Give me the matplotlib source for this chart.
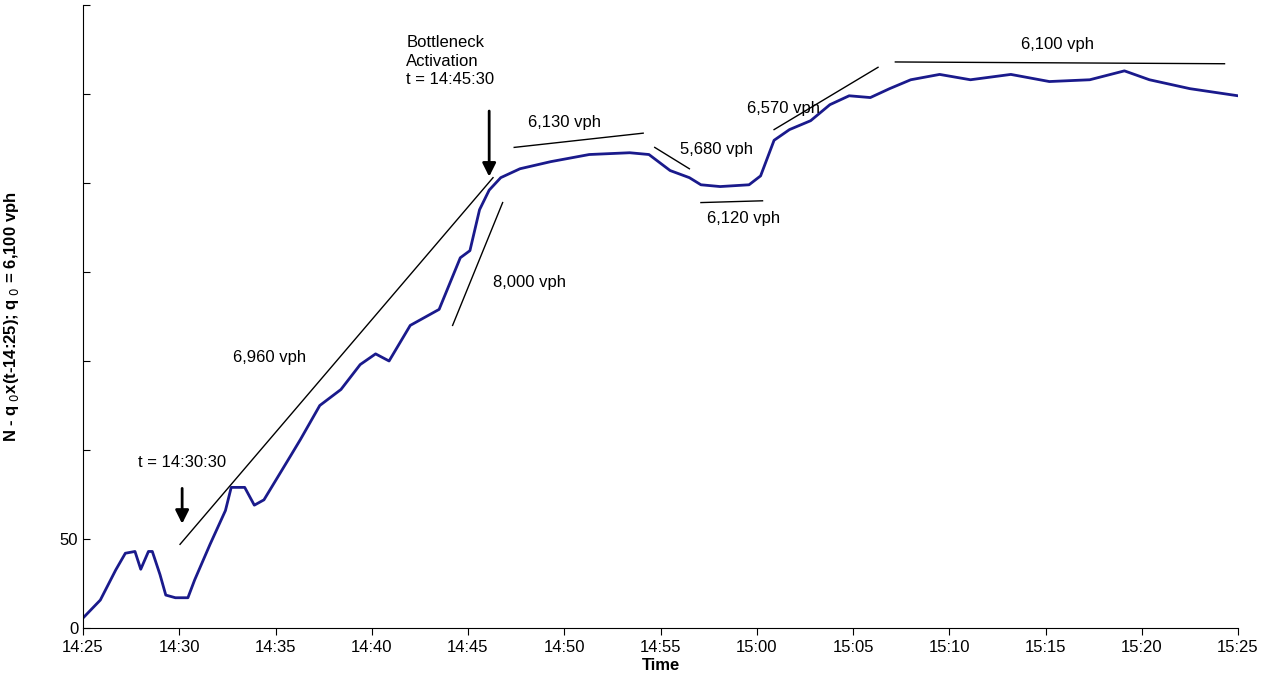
import matplotlib.pyplot as plt

# minutes after 14:25, cumulative count (N - q0 x (t - 14:25))
minutes = [0, 0.9, 1.7, 2.2, 2.7, 3.0, 3.4, 3.6, 4.0, 4.3, 4.8, 5.45, 5.8, 6.6, 7.4, 7.7,
           8.4, 8.9, 9.4, 10.8, 11.3, 12.3, 13.4, 14.4, 15.2, 15.9, 17.0, 18.0, 18.5,
           19.6, 20.1, 20.6, 21.1, 21.7, 22.7, 24.3, 26.3, 28.4, 29.4, 30.5, 31.5,
           32.1, 33.1, 34.6, 35.2, 35.9, 36.7, 37.8, 38.8, 39.8, 40.9, 41.9, 43.0,
           44.5, 46.1, 48.2, 50.2, 52.3, 54.1, 55.4, 57.5, 60]
counts = [5.6, 15.7, 32.6, 42, 43, 33, 43, 43, 30, 18.5, 17, 17, 27, 47, 66, 79,
          79, 69, 72, 97, 106, 125, 134, 148, 154, 150, 170, 176, 179,
          208, 212, 235, 246, 253, 258, 262, 266, 267, 266, 257, 253,
          249, 248, 249, 254, 274, 280, 285, 294, 299, 298, 303, 308,
          311, 308, 311, 307, 308, 313, 308, 303, 299]

rate_lines = [((5.04, 47), (21.3, 253)), ((19.2, 170), (21.8, 239)),
              ((22.4, 270), (29.1, 278)), ((29.7, 270), (31.5, 258)),
              ((32.1, 239), (35.3, 240)), ((35.9, 280), (41.3, 315)),
              ((42.2, 318), (59.3, 317))]
rate_labels = ["6,960 vph", "8,000 vph", "6,130 vph", "5,680 vph", "6,120 vph", "6,570 vph", "6,100 vph"]
label_pos = [(9.7, 152), (23.2, 194), (25.0, 284), (32.9, 269), (34.3, 230), (36.4, 292), (50.6, 328)]

tick_labels = ["14:25", "14:30", "14:35", "14:40", "14:45", "14:50", "14:55",
               "15:00", "15:05", "15:10", "15:15", "15:20", "15:25"]

plt.rcParams['font.family'] = ['Liberation Sans', 'DejaVu Sans']
fig = plt.figure(figsize=(12.76, 6.96), dpi=100)
ax = fig.add_axes([83/1276, 1 - 628/696, (1238-83)/1276, (628-5)/696])

ax.plot(minutes, counts, color='#1a1a8c', lw=2)

for (p1, p2) in rate_lines:
    ax.plot([p1[0], p2[0]], [p1[1], p2[1]], color='black', lw=1)
for lab, (x, y) in zip(rate_labels, label_pos):
    ax.text(x, y, lab, ha='center', va='center', fontsize=12)

ax.annotate("", xy=(5.15, 57), xytext=(5.15, 80),
            arrowprops=dict(arrowstyle='-|>', color='black', lw=2, mutation_scale=20))
ax.text(5.15, 93, "t = 14:30:30", ha='center', va='center', fontsize=12)
ax.annotate("", xy=(21.1, 252), xytext=(21.1, 292),
            arrowprops=dict(arrowstyle='-|>', color='black', lw=2, mutation_scale=20))
ax.text(16.8, 333, "Bottleneck\nActivation\nt = 14:45:30", ha='left', va='top', fontsize=12, linespacing=1.3)

ax.set_xlim(0, 60)
ax.set_ylim(0, 350)
ax.set_xticks(range(0, 61, 5))
ax.set_xticklabels(tick_labels, fontsize=12)
ax.set_yticks(range(0, 351, 50))
ax.set_yticklabels(["0", "50"] + [""] * 6, fontsize=12)
ax.tick_params(direction='in', length=5)
ax.tick_params(axis='x', direction='out')
for s in ['top', 'right']:
    ax.spines[s].set_visible(False)
ax.set_xlabel("Time", fontsize=12, fontweight='bold', labelpad=2)
ax.set_ylabel(r"N - q$_{\ 0}$x(t-14:25); q$_{\ 0}$ = 6,100 vph", fontsize=12, fontweight='bold', labelpad=28)

fig.savefig("out.png", dpi=100)
